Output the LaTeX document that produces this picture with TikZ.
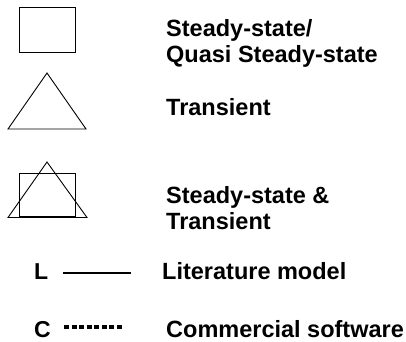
\documentclass[tikz,border=0pt]{standalone}
\usepackage{fontspec}
\setmainfont{Liberation Sans}
\usetikzlibrary{positioning}

\begin{document}
\begin{tikzpicture}[
  x=1pt, y=-1pt,
  shp/.style={draw, line width=0.9pt, line join=miter},
  txt/.style={font=\bfseries\fontsize{23.5}{26}\selectfont, anchor=base west, inner sep=0pt},
  key/.style={font=\bfseries\fontsize{23}{26}\selectfont, anchor=base west, inner sep=0pt},
  solidln/.style={line width=2.3pt},
  dotln/.style={line width=3.2pt, dash pattern=on 5pt off 2.57pt}
]
  \useasboundingbox (0,0) rectangle (406,341);

  % symbols
  \draw[shp] (19,7.5) rectangle (75,52);
  \draw[shp] (8,129) -- (47,73) -- (86,129) -- cycle;
  \draw[shp] (19,173) rectangle (75,216.5);
  \draw[shp] (8,217.5) -- (47,162) -- (87,217.5) -- cycle;

  % labels
  \node[txt] (ss1) at (166,36) {Steady-state/};
  \node[txt] (ss2) at (166,62) {Quasi Steady-state};
  \node[txt] (tr) at (166,115) {Transient};
  \node[txt] (both1) at (166,203.5) {Steady-state \&};
  \node[txt] (both2) at (166,229.5) {Transient};

  % line key
  \node[key] (litL) at (34,279.5) {L};
  \coordinate (litA) at (63,272.7);
  \coordinate (litB) at (131,272.7);
  \draw[solidln] (litA) -- (litB);
  \node[txt] (lit) at (162,279.5) {Literature model};

  \node[key] (comC) at (34,337.5) {C};
  \coordinate (comA) at (64,327);
  \coordinate (comB) at (122,327);
  \draw[dotln] (comA) -- (comB);
  \node[txt] (com) at (166,337.5) {Commercial software};
\end{tikzpicture}
\end{document}
